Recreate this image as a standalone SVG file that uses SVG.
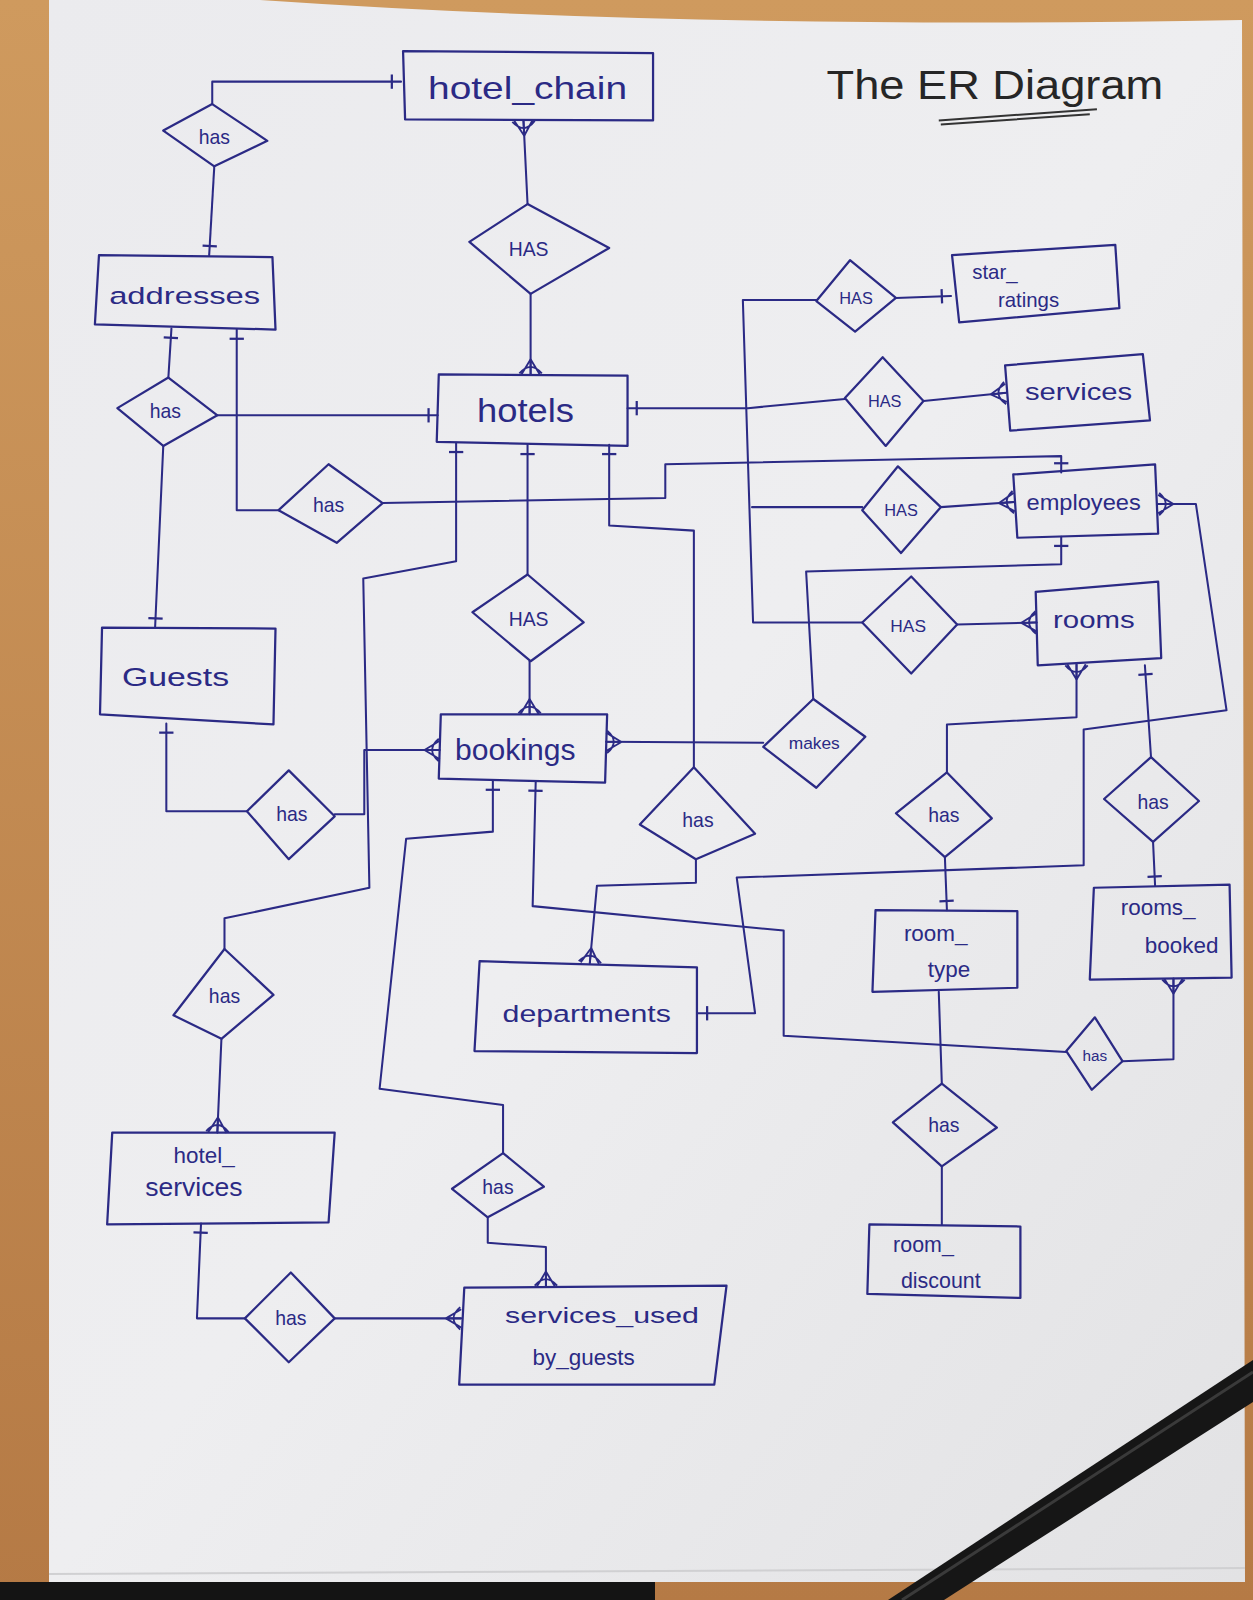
<svg xmlns="http://www.w3.org/2000/svg" width="1253" height="1600" viewBox="0 0 1253 1600">
<style>
.ink{fill:none;stroke:#2b2a85;stroke-width:2;stroke-linejoin:round;stroke-linecap:round}
.box{fill:none;stroke:#2b2a85;stroke-width:2.2;stroke-linejoin:round}
.lbl{font-family:"Liberation Sans",Arial,sans-serif;fill:#2b2a85;text-anchor:middle}
.rel{font-size:19px}
.ent{font-size:24px}
</style>
<defs>
<marker id="one" viewBox="-20 -15 30 30" markerWidth="30" markerHeight="30" refX="0" refY="0" orient="auto-start-reverse" markerUnits="userSpaceOnUse">
<path d="M-9,-7 L-9,7" fill="none" stroke="#2b2a85" stroke-width="2.2"/>
</marker>
<marker id="many" viewBox="-20 -15 30 30" markerWidth="30" markerHeight="30" refX="0" refY="0" orient="auto-start-reverse" markerUnits="userSpaceOnUse">
<path d="M-15,0 L0,-9 M-15,0 L0,0 M-15,0 L0,9 M-1,-11 Q-14,0 -1,11" fill="none" stroke="#2b2a85" stroke-width="1.8"/>
</marker>
<linearGradient id="paper" x1="0" y1="0" x2="1" y2="1">
<stop offset="0" stop-color="#ebebee"/>
<stop offset="0.5" stop-color="#eeeef0"/>
<stop offset="1" stop-color="#e2e2e4"/>
</linearGradient>
<linearGradient id="wood" x1="0" y1="0" x2="0" y2="1">
<stop offset="0" stop-color="#cf9a5e"/>
<stop offset="1" stop-color="#b57a45"/>
</linearGradient>
</defs>

<g id="background">
<rect x="0" y="0" width="1253" height="1600" fill="url(#wood)"/>
<path d="M49,0 L260,0 Q700,30 1242,20 L1245,1582 L49,1582 Z" fill="url(#paper)"/>
<rect x="0" y="1582" width="655" height="18" fill="#141414"/>
<path d="M49,1574 L1245,1568" stroke="#d0d0d2" stroke-width="2"/>
<path d="M1253,1360 L1253,1402 L944,1600 L888,1600 Z" fill="#161616"/>
<path d="M1253,1372 L902,1600" stroke="#3a3a3a" stroke-width="3"/>
</g>

<g transform="scale(1.0204)">

<g id="title">
<text x="975" y="97" font-family="Liberation Sans, Arial, sans-serif" font-size="40" fill="#262626" text-anchor="middle" textLength="330" lengthAdjust="spacingAndGlyphs">The  ER  Diagram</text>
<path d="M920,118 L1075,107 M922,122 L1068,112" fill="none" stroke="#333" stroke-width="2"/>
</g>

<g id="connectors">
<path class="ink" d="M208,102 V80 H393" marker-end="url(#one)"/>
<path class="ink" d="M210,163 L205,250" marker-end="url(#one)"/>
<path class="ink" d="M517,200 L513,118" marker-end="url(#many)"/>
<path class="ink" d="M520,288 L520,367" marker-end="url(#many)"/>
<path class="ink" d="M165,370 L168,322" marker-end="url(#one)"/>
<path class="ink" d="M273,500 H232 V323" marker-end="url(#one)"/>
<path class="ink" d="M213,407 H429" marker-end="url(#one)"/>
<path class="ink" d="M160,437 L152,615" marker-end="url(#one)"/>
<path class="ink" d="M375,493 L652,488 V455 L1040,447 V463" marker-end="url(#one)"/>
<path class="ink" d="M220,930 V900 L362,870 L356,567 L447,550 V434" marker-end="url(#one)"/>
<path class="ink" d="M517,563 V436" marker-end="url(#one)"/>
<path class="ink" d="M519,648 V700" marker-end="url(#many)"/>
<path class="ink" d="M680,752 V520 L597,515 V436" marker-end="url(#one)"/>
<path class="ink" d="M682,842 V865 L585,868 L578,944" marker-end="url(#many)"/>
<path class="ink" d="M328,798 H357 V735 H431" marker-end="url(#many)"/>
<path class="ink" d="M242,795 H163 V709" marker-end="url(#one)"/>
<path class="ink" d="M748,728 L594,727" marker-end="url(#many)"/>
<path class="ink" d="M797,685 L790,560 L1040,553 V526" marker-end="url(#one)"/>
<path class="ink" d="M828,391 L733,400 H615" marker-end="url(#one)"/>
<path class="ink" d="M800,294 H728 L738,610 H845"/>
<path class="ink" d="M737,497 H845"/>
<path class="ink" d="M878,292 L932,290" marker-end="url(#one)"/>
<path class="ink" d="M905,393 L986,385" marker-end="url(#many)"/>
<path class="ink" d="M922,497 L994,492" marker-end="url(#many)"/>
<path class="ink" d="M938,612 L1016,610" marker-end="url(#many)"/>
<path class="ink" d="M684,993 H740 L722,860 L1062,848 V715 L1202,696 L1172,494 H1135" marker-start="url(#one)" marker-end="url(#many)"/>
<path class="ink" d="M928,757 V710 L1055,703 V651" marker-end="url(#many)"/>
<path class="ink" d="M1128,742 L1122,652" marker-end="url(#one)"/>
<path class="ink" d="M1130,825 L1132,868" marker-end="url(#one)"/>
<path class="ink" d="M926,840 L928,892" marker-end="url(#one)"/>
<path class="ink" d="M923,1062 L920,972"/>
<path class="ink" d="M1045,1031 L768,1015 V912 L522,888 L525,766" marker-end="url(#one)"/>
<path class="ink" d="M1100,1040 L1150,1038 V959" marker-end="url(#many)"/>
<path class="ink" d="M923,1143 V1200"/>
<path class="ink" d="M493,1130 V1083 L372,1067 L398,822 L483,815 V765" marker-end="url(#one)"/>
<path class="ink" d="M478,1193 V1218 L535,1222 V1261" marker-end="url(#many)"/>
<path class="ink" d="M217,1018 L213,1110" marker-end="url(#many)"/>
<path class="ink" d="M240,1292 H193 L197,1199" marker-end="url(#one)"/>
<path class="ink" d="M328,1292 H452" marker-end="url(#many)"/>
</g>

<g id="hotel_chain"><polygon class="box" points="395,50 640,52 640,118 397,117"/><text class="lbl" x="517" y="97" font-size="30" textLength="195" lengthAdjust="spacingAndGlyphs">hotel_chain</text></g>
<g id="addresses"><polygon class="box" points="97,250 267,252 270,323 93,318"/><text class="lbl ent" x="181" y="298" textLength="148" lengthAdjust="spacingAndGlyphs">addresses</text></g>
<g id="hotels"><polygon class="box" points="430,367 615,368 615,437 428,433"/><text class="lbl" x="515" y="414" font-size="32" textLength="95" lengthAdjust="spacingAndGlyphs">hotels</text></g>
<g id="guests"><polygon class="box" points="100,615 270,616 268,710 98,700"/><text class="lbl" x="172" y="672" font-size="26" textLength="105" lengthAdjust="spacingAndGlyphs">Guests</text></g>
<g id="bookings"><polygon class="box" points="432,700 595,700 593,767 430,763"/><text class="lbl" x="505" y="745" font-size="28" textLength="118" lengthAdjust="spacingAndGlyphs">bookings</text></g>
<g id="star_ratings"><polygon class="box" points="933,250 1093,240 1097,302 940,316"/><text class="lbl" x="975" y="273" font-size="20">star_</text><text class="lbl" x="1008" y="301" font-size="20">ratings</text></g>
<g id="services"><polygon class="box" points="985,358 1120,347 1127,412 990,422"/><text class="lbl" x="1057" y="392" font-size="23" textLength="105" lengthAdjust="spacingAndGlyphs">services</text></g>
<g id="employees"><polygon class="box" points="993,465 1132,455 1135,523 997,527"/><text class="lbl" x="1062" y="500" font-size="21" textLength="112" lengthAdjust="spacingAndGlyphs">employees</text></g>
<g id="rooms"><polygon class="box" points="1015,580 1135,570 1138,645 1017,652"/><text class="lbl" x="1072" y="615" font-size="23" textLength="80" lengthAdjust="spacingAndGlyphs">rooms</text></g>
<g id="room_type"><polygon class="box" points="858,892 997,893 997,968 855,972"/><text class="lbl" x="917" y="922" font-size="22">room_</text><text class="lbl" x="930" y="957" font-size="22">type</text></g>
<g id="rooms_booked"><polygon class="box" points="1072,870 1205,867 1207,958 1068,960"/><text class="lbl" x="1135" y="897" font-size="22">rooms_</text><text class="lbl" x="1158" y="934" font-size="22">booked</text></g>
<g id="departments"><polygon class="box" points="470,942 683,948 683,1032 465,1030"/><text class="lbl" x="575" y="1002" font-size="23" textLength="165" lengthAdjust="spacingAndGlyphs">departments</text></g>
<g id="room_discount"><polygon class="box" points="852,1200 1000,1202 1000,1272 850,1268"/><text class="lbl" x="905" y="1227" font-size="21">room_</text><text class="lbl" x="922" y="1262" font-size="21">discount</text></g>
<g id="hotel_services"><polygon class="box" points="110,1110 328,1110 322,1198 105,1200"/><text class="lbl" x="200" y="1140" font-size="22">hotel_</text><text class="lbl" x="190" y="1172" font-size="26">services</text></g>
<g id="services_used_by_guests"><polygon class="box" points="455,1262 712,1260 700,1357 450,1357"/><text class="lbl" x="590" y="1297" font-size="22" textLength="190" lengthAdjust="spacingAndGlyphs">services_used</text><text class="lbl" x="572" y="1338" font-size="22">by_guests</text></g>

<g id="rel_has_chain_addr"><polygon class="box" points="208,102 262,138 210,163 160,128"/><text class="lbl rel" x="210" y="141">has</text></g>
<g id="rel_HAS_chain_hotels"><polygon class="box" points="517,200 597,243 520,288 460,237"/><text class="lbl rel" x="518" y="251">HAS</text></g>
<g id="rel_has_addr_hotels"><polygon class="box" points="165,370 213,407 160,437 115,400"/><text class="lbl rel" x="162" y="410">has</text></g>
<g id="rel_has_addr_emp"><polygon class="box" points="322,455 375,493 330,532 273,500"/><text class="lbl rel" x="322" y="502">has</text></g>
<g id="rel_HAS_hotels_bookings"><polygon class="box" points="517,563 572,610 520,648 463,600"/><text class="lbl rel" x="518" y="613">HAS</text></g>
<g id="rel_has_guests_bookings"><polygon class="box" points="283,755 328,800 283,842 242,795"/><text class="lbl rel" x="286" y="805">has</text></g>
<g id="rel_has_hotels_depts"><polygon class="box" points="680,752 740,817 682,842 627,808"/><text class="lbl rel" x="684" y="810">has</text></g>
<g id="rel_makes"><polygon class="box" points="797,685 848,722 800,772 748,732"/><text class="lbl" x="798" y="734" font-size="17">makes</text></g>
<g id="rel_HAS_star"><polygon class="box" points="833,255 878,292 838,325 800,295"/><text class="lbl" x="839" y="298" font-size="16">HAS</text></g>
<g id="rel_HAS_services"><polygon class="box" points="865,350 905,393 868,437 828,390"/><text class="lbl" x="867" y="399" font-size="16">HAS</text></g>
<g id="rel_HAS_employees"><polygon class="box" points="880,457 922,497 883,542 845,500"/><text class="lbl" x="883" y="506" font-size="16">HAS</text></g>
<g id="rel_HAS_rooms"><polygon class="box" points="893,565 938,612 893,660 845,610"/><text class="lbl" x="890" y="619" font-size="17">HAS</text></g>
<g id="rel_has_rooms_type"><polygon class="box" points="928,757 972,802 926,840 878,797"/><text class="lbl rel" x="925" y="806">has</text></g>
<g id="rel_has_rooms_booked"><polygon class="box" points="1128,742 1175,785 1130,825 1082,783"/><text class="lbl rel" x="1130" y="793">has</text></g>
<g id="rel_has_bookings_rb"><polygon class="box" points="1073,997 1100,1040 1070,1068 1045,1030"/><text class="lbl" x="1073" y="1040" font-size="15">has</text></g>
<g id="rel_has_type_discount"><polygon class="box" points="923,1062 977,1105 923,1143 875,1100"/><text class="lbl rel" x="925" y="1109">has</text></g>
<g id="rel_has_hotels_hs"><polygon class="box" points="220,930 268,975 217,1018 170,995"/><text class="lbl rel" x="220" y="983">has</text></g>
<g id="rel_has_bookings_sug"><polygon class="box" points="493,1130 533,1163 478,1193 443,1165"/><text class="lbl rel" x="488" y="1170">has</text></g>
<g id="rel_has_hs_sug"><polygon class="box" points="285,1247 328,1292 283,1335 240,1292"/><text class="lbl rel" x="285" y="1299">has</text></g>
</g>
</svg>
